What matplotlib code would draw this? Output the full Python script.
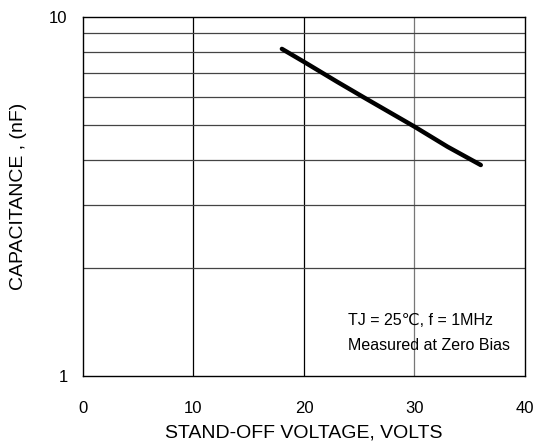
import matplotlib
matplotlib.use("Agg")
import matplotlib.pyplot as plt
from matplotlib.ticker import FixedLocator, NullFormatter

plt.rcParams["font.family"] = ["Liberation Sans", "DejaVu Sans"]

# curve
voltage = [18, 20, 23, 25.5, 30, 33, 36]
capacitance = [8.15, 7.5, 6.6, 5.95, 4.95, 4.35, 3.87]

x_ticks = [0, 10, 20, 30, 40]
y_ticks = [1, 10]
y_minor = [2, 3, 4, 5, 6, 7, 8, 9]

fig = plt.figure(figsize=(5.41, 4.45), dpi=100)
ax = fig.add_axes([0.1534, 0.155, 0.817, 0.8068])

ax.plot(voltage, capacitance, color="black", linewidth=3.2, solid_capstyle="round")

ax.set_yscale("log")
ax.set_xlim(0, 40)
ax.set_ylim(1, 10)
ax.xaxis.set_major_locator(FixedLocator(x_ticks))
ax.yaxis.set_major_locator(FixedLocator(y_ticks))
ax.yaxis.set_minor_locator(FixedLocator(y_minor))
ax.yaxis.set_minor_formatter(NullFormatter())
ax.set_yticklabels(["1", "10"])

ax.tick_params(which="both", length=0, labelsize=12)
ax.tick_params(axis="x", pad=18)
ax.tick_params(axis="y", pad=11)

# grid
for v in [10, 20]:
    ax.axvline(v, color="black", linewidth=0.9, zorder=1)
ax.axvline(30, color="#777777", linewidth=0.9, zorder=1)
for c in y_minor:
    ax.axhline(c, color="#444444", linewidth=0.9, zorder=1)

for s in ax.spines.values():
    s.set_linewidth(1.0)
    s.set_color("black")

ax.set_xlabel("STAND-OFF VOLTAGE, VOLTS", fontsize=14, labelpad=6)
ax.set_ylabel("CAPACITANCE , (nF)", fontsize=14, labelpad=16)

ax.text(24, 1.43, "TJ = 25\u2103, f = 1MHz", fontsize=11.5, ha="left", va="center")
ax.text(24, 1.22, "Measured at Zero Bias", fontsize=11.5, ha="left", va="center")

fig.savefig("out.png", dpi=100)
